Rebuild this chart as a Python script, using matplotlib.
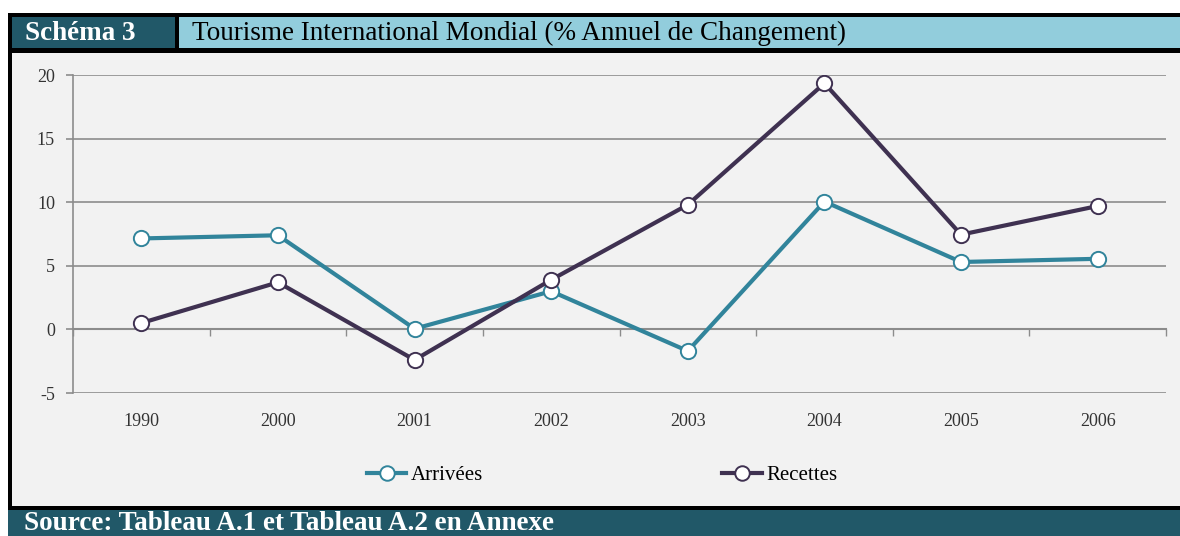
import matplotlib.pyplot as plt
import matplotlib.transforms as mtransforms
from matplotlib.patches import Rectangle

# Data
years = ['1990', '2000', '2001', '2002', '2003', '2004', '2005', '2006']
arrivees = [7.15, 7.4, 0.05, 3.0, -1.7, 10.05, 5.3, 5.55]
recettes = [0.5, 3.7, -2.4, 3.9, 9.8, 19.35, 7.45, 9.7]

title_box = 'Schéma 3'
title_text = 'Tourisme International Mondial (% Annuel de Changement)'
source_text = 'Source: Tableau A.1 et Tableau A.2 en Annexe'

W, H = 1180, 536
TEAL_DARK = '#215868'
BLUE_LIGHT = '#92CDDC'
BG = '#F2F2F2'
GRID = '#8C8C8C'
C_ARR = '#31849B'
C_REC = '#3F3151'

plt.rcParams['font.family'] = ['Liberation Serif', 'DejaVu Serif']

fig = plt.figure(figsize=(W / 100, H / 100), dpi=100)
fig.patch.set_facecolor('white')


# helper: rectangle in pixel coords (top-left origin)
def box(x0, y0, x1, y1, color):
    fig.patches.append(Rectangle((x0 / W, 1 - y1 / H), (x1 - x0) / W, (y1 - y0) / H,
                                 transform=fig.transFigure, facecolor=color,
                                 edgecolor='none', zorder=-10))


# frame and bands
box(8, 13, W, 510, 'black')
box(12, 53, W, 506, BG)
box(12, 17, 175, 48, TEAL_DARK)
box(179, 17, W, 48, BLUE_LIGHT)
box(8, 510, W, H, TEAL_DARK)

fig.text(25 / W, 1 - 33 / H, title_box, color='white', fontsize=19.5, fontweight='bold',
         va='center', ha='left')
fig.text(192 / W, 1 - 33 / H, title_text, color='black', fontsize=19.5,
         va='center', ha='left')
fig.text(24 / W, 1 - 523 / H, source_text, color='white', fontsize=19.5, fontweight='bold',
         va='center', ha='left')

# plot area
ax = fig.add_axes([73 / W, (H - 393) / H, (1166 - 73) / W, (393 - 75) / H])
ax.set_facecolor('none')
x = [i + 0.5 for i in range(len(years))]

ax.plot(x, arrivees, color=C_ARR, lw=3, marker='o', ms=11, mfc='white',
        mec=C_ARR, mew=1.4, label='Arrivées', zorder=3)
ax.plot(x, recettes, color=C_REC, lw=3, marker='o', ms=11, mfc='white',
        mec=C_REC, mew=1.4, label='Recettes', zorder=3)

ax.set_xlim(0, len(years))
ax.set_ylim(-5, 20)
ax.set_yticks(range(-5, 21, 5))
ax.set_yticklabels([str(v) for v in range(-5, 21, 5)], fontsize=13, color='#333333')
ax.yaxis.grid(True, color=GRID, lw=1.2)
ax.set_axisbelow(True)

for s in ['top', 'right']:
    ax.spines[s].set_visible(False)
ax.spines['left'].set_color(GRID)
ax.spines['left'].set_linewidth(1.2)
ax.spines['bottom'].set_position(('data', 0))
ax.spines['bottom'].set_color(GRID)
ax.spines['bottom'].set_linewidth(1.5)

ax.set_xticks(range(len(years) + 1))
ax.set_xticklabels([])
ax.tick_params(axis='x', direction='out', length=5, color=GRID, width=1)
ax.tick_params(axis='y', direction='out', length=5, color=GRID, width=1.2, pad=8)

trans = mtransforms.blended_transform_factory(ax.transData, ax.transAxes)
for xi, yr in zip(x, years):
    ax.text(xi, -29 / 318, yr, transform=trans, ha='center', va='center',
            fontsize=13, color='#333333')

ax.legend(loc='center', bbox_to_anchor=((602 - 73) / 1093, (393 - 475) / 318), ncol=2,
          frameon=False, fontsize=15, handlelength=1.9, handletextpad=0.2,
          columnspacing=11.5, markerscale=0.95)

fig.savefig('out.png', dpi=100, facecolor=fig.get_facecolor())
